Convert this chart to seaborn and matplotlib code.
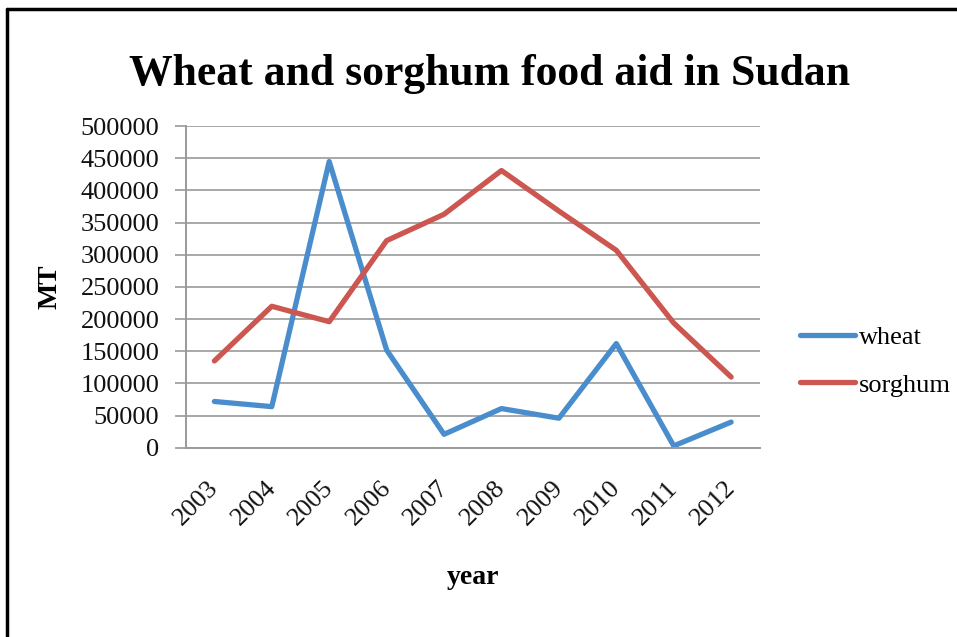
import pandas as pd
import numpy as np
import matplotlib.pyplot as plt
import seaborn as sns
from matplotlib.lines import Line2D

# DATA (metric tonnes)
years = ['2003', '2004', '2005', '2006', '2007', '2008', '2009', '2010', '2011', '2012']
wheat = [72000, 64000, 445000, 152000, 21000, 61000, 46000, 162000, 3000, 40000]
sorghum = [135000, 220000, 196000, 322000, 363000, 431000, 368000, 307000, 194000, 110000]

df = pd.DataFrame({'year': years * 2,
                   'MT': wheat + sorghum,
                   'crop': ['wheat'] * len(years) + ['sorghum'] * len(years)})
df['pos'] = df['year'].map({y: i for i, y in enumerate(years)})

sns.set_theme(style="white")
plt.rcParams['font.family'] = ['Liberation Serif', 'DejaVu Serif']
plt.rcParams['text.color'] = 'black'
plt.rcParams['axes.labelcolor'] = 'black'

fig = plt.figure(figsize=(9.57, 6.37), dpi=100)
ax = fig.add_axes([0.194, 0.297, 0.600, 0.505])

palette = {'wheat': '#4a8dcc', 'sorghum': '#cc5650'}
sns.lineplot(data=df, x='pos', y='MT', hue='crop', palette=palette,
             linewidth=3.8, ax=ax, legend=False, solid_capstyle='round')

# axes styling
ax.set_xlim(-0.5, len(years) - 0.5)
ax.set_ylim(0, 500000)
ax.set_yticks(np.arange(0, 500001, 50000))
ax.set_yticklabels([str(v) for v in range(0, 500001, 50000)], fontsize=19, color='#111111')
# year labels sit a touch left of each category centre, like the original
ax.set_xticks(np.arange(len(years)) - 0.12)
ax.set_xticklabels(years, rotation=45, ha='right', rotation_mode='anchor',
                   fontsize=19, color='#111111')
ax.set_xticks(np.arange(-0.5, len(years), 1), minor=True)
ax.tick_params(axis='x', which='major', length=0, pad=21)
ax.tick_params(axis='x', which='minor', length=8, width=1.2, color='#9a9a9a', direction='out')
ax.tick_params(axis='y', length=8, width=1.2, color='#9a9a9a', direction='out', pad=11, left=True)
ax.yaxis.grid(True, color='#a8a8a8', linewidth=1.4)
ax.set_axisbelow(True)
for s in ['top', 'right']:
    ax.spines[s].set_visible(False)
for s in ['left', 'bottom']:
    ax.spines[s].set_color('#9a9a9a')
    ax.spines[s].set_linewidth(1.4)

ax.set_xlabel('year', fontsize=20, fontweight='bold', labelpad=25)
ax.set_ylabel('MT', fontsize=20, fontweight='bold', labelpad=13)

fig.text(0.512, 0.884, 'Wheat and sorghum food aid in Sudan', ha='center', va='center',
         fontsize=31.5, fontweight='bold', color='black')

# legend on the right
handles = [Line2D([], [], color=palette['wheat'], linewidth=3.8),
           Line2D([], [], color=palette['sorghum'], linewidth=3.8)]
fig.legend(handles, ['wheat', 'sorghum'], loc='center left', bbox_to_anchor=(0.811, 0.433),
           frameon=False, fontsize=19, handlelength=2.1, handletextpad=0.15, labelspacing=0.9)

# black frame round the picture (cut at right and bottom)
fig.add_artist(Line2D([0.0075, 0.0075], [0, 0.986], color='black', linewidth=2.5, transform=fig.transFigure))
fig.add_artist(Line2D([0.0075, 1.0], [0.986, 0.986], color='black', linewidth=2.5, transform=fig.transFigure))

fig.savefig('out.png', dpi=100)
